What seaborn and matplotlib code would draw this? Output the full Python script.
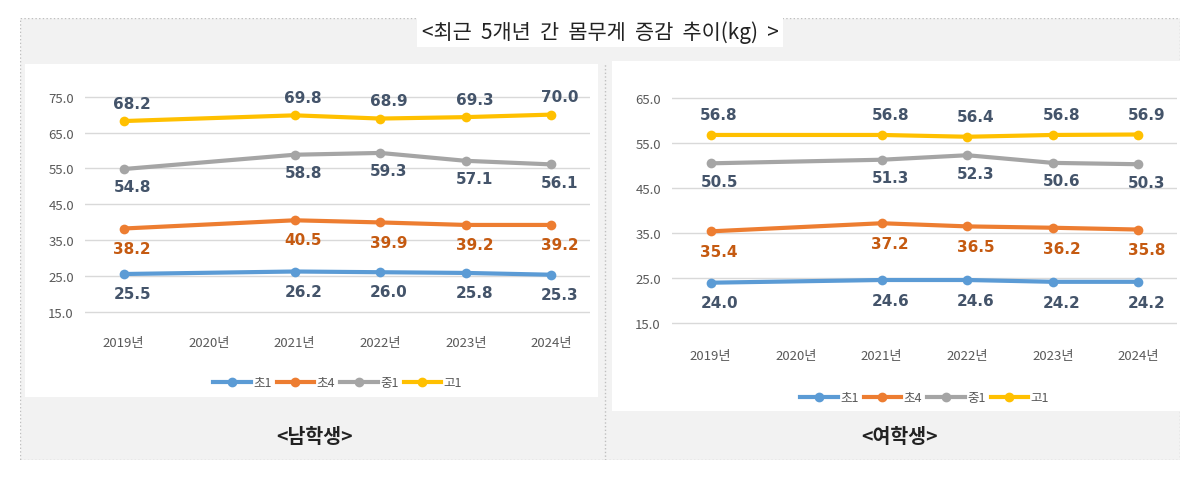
import numpy as np
import pandas as pd
import seaborn as sns
import matplotlib.pyplot as plt
from matplotlib.patches import Rectangle

plt.rcParams["font.family"] = ["Noto Sans CJK KR", "Noto Sans CJK JP", "Noto Sans CJK SC", "DejaVu Sans"]

years = ["2019년", "2020년", "2021년", "2022년", "2023년", "2024년"]
groups = ["초1", "초4", "중1", "고1"]
colors = ["#5b9bd5", "#ed7d31", "#a5a5a5", "#ffc000"]
label_colors = ["#44546a", "#c55a11", "#44546a", "#44546a"]

# 2020 has no survey value
boys_e1 = [25.5, None, 26.2, 26.0, 25.8, 25.3]
boys_e4 = [38.2, None, 40.5, 39.9, 39.2, 39.2]
boys_m1 = [54.8, None, 58.8, 59.3, 57.1, 56.1]
boys_h1 = [68.2, None, 69.8, 68.9, 69.3, 70.0]
girls_e1 = [24.0, None, 24.6, 24.6, 24.2, 24.2]
girls_e4 = [35.4, None, 37.2, 36.5, 36.2, 35.8]
girls_m1 = [50.5, None, 51.3, 52.3, 50.6, 50.3]
girls_h1 = [56.8, None, 56.8, 56.4, 56.8, 56.9]


def make_df(series):
    rows = []
    for g, vals in zip(groups, series):
        for i, v in enumerate(vals):
            if v is not None:
                rows.append({"x": i, "group": g, "val": v})
    return pd.DataFrame(rows)


def draw(ax, series, yticks, ylim, label_off):
    df = make_df(series)
    sns.lineplot(data=df, x="x", y="val", hue="group", hue_order=groups,
                 palette=colors, marker="o", markersize=7, markeredgewidth=0,
                 linewidth=3, ax=ax, legend=False)
    for k, (g, vals) in enumerate(zip(groups, series)):
        off = label_off[k]
        for i, v in enumerate(vals):
            if v is None:
                continue
            ax.text(i + 0.1, v + off, f"{v:.1f}", ha="center", va="center",
                    fontsize=11, fontweight="bold", color=label_colors[k],
                    family="DejaVu Sans")
    ax.set_xlim(-0.45, 5.45)
    ax.set_ylim(*ylim)
    ax.set_yticks(yticks)
    ax.set_yticklabels([f"{t:.1f}" for t in yticks])
    ax.set_xticks(range(len(years)))
    ax.set_xticklabels(years)
    ax.tick_params(length=0, labelsize=9.5, colors="#595959", pad=8)
    ax.tick_params(axis="x", pad=14)
    ax.grid(axis="y", color="#d9d9d9", linewidth=1)
    ax.set_axisbelow(True)
    ax.patch.set_alpha(0)
    for s in ax.spines.values():
        s.set_visible(False)
    ax.set_xlabel("")
    ax.set_ylabel("")
    handles = [plt.Line2D([], [], color=c, marker="o", lw=3, ms=6) for c in colors]
    ax.legend(handles, groups, loc="upper center", bbox_to_anchor=(0.5, -0.2),
              ncol=4, frameon=False, fontsize=9, handlelength=3,
              columnspacing=0.4, handletextpad=0.2, labelcolor="#595959")


fig = plt.figure(figsize=(12, 4.85), dpi=100)
fig.patch.set_facecolor("white")
bg = fig.add_axes([0.017, 0.05, 0.966, 0.91], zorder=-5)
bg.set_xlim(0, 1); bg.set_ylim(0, 1); bg.axis("off")
bg.add_patch(Rectangle((0, 0), 1, 1, facecolor="#f2f2f2", edgecolor="#bfbfbf",
                       linestyle=":", linewidth=1))
bg.plot([0.504, 0.504], [0, 0.9], color="#bfbfbf", linestyle=":", lw=1)
bg.add_patch(Rectangle(((25 / 1200 - 0.017) / 0.966, (1 - 398 / 485 - 0.05) / 0.91),
                       573 / 1200 / 0.966, 333 / 485 / 0.91, facecolor="white", edgecolor="none"))
bg.add_patch(Rectangle(((612 / 1200 - 0.017) / 0.966, (1 - 412 / 485 - 0.05) / 0.91),
                       568 / 1200 / 0.966, 350 / 485 / 0.91, facecolor="white", edgecolor="none"))

fig.text(0.5, 1 - 33 / 485, "<최근  5개년  간  몸무게  증감  추이(kg)  >", ha="center",
         va="center", fontsize=15, color="#222222",
         bbox=dict(facecolor="white", edgecolor="none", pad=3))
fig.text(0.262, 1 - 438 / 485, "<남학생>", ha="center", va="center", fontsize=14,
         fontweight="bold", color="#222222")
fig.text(0.75, 1 - 438 / 485, "<여학생>", ha="center", va="center", fontsize=14,
         fontweight="bold", color="#222222")

ax1 = fig.add_axes([85 / 1200, 1 - 318 / 485, 505 / 1200, 240 / 485])
draw(ax1, [boys_e1, boys_e4, boys_m1, boys_h1], [15, 25, 35, 45, 55, 65, 75],
     (13.5, 80.5), [-5.5, -5.5, -5, 5])

ax2 = fig.add_axes([672 / 1200, 1 - 331 / 485, 505 / 1200, 250 / 485])
draw(ax2, [girls_e1, girls_e4, girls_m1, girls_h1], [15, 25, 35, 45, 55, 65],
     (13.5, 69), [-4.5, -4.5, -4, 4.5])

fig.savefig("out.png", dpi=100)
